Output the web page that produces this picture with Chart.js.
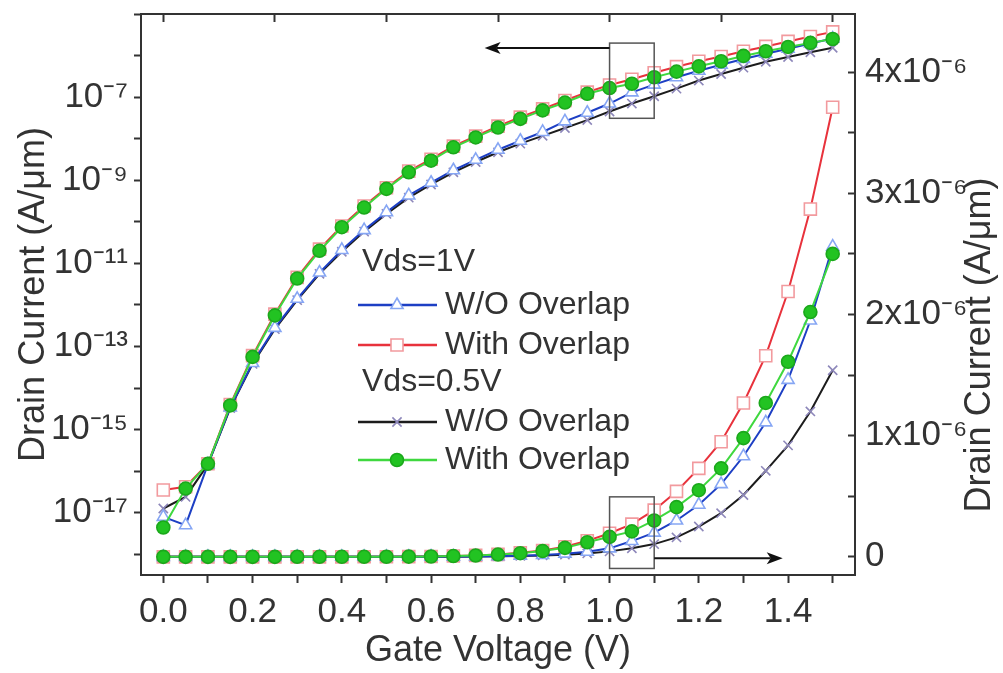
<!DOCTYPE html>
<html lang="en">
<head>
<meta charset="UTF-8" />
<title>Drain Current vs Gate Voltage</title>
<script src="https://cdn.jsdelivr.net/npm/chart.js@4.4.1/dist/chart.umd.min.js"></script>
<style>
  html, body { margin:0; padding:0; background:#ffffff; }
  #wrap { width:1003px; height:673px; }
</style>
</head>
<body>
<div id="wrap"><canvas id="ivChart" width="1003" height="673"></canvas></div>
<script>
// gate voltage sweep (V)
const gateV = [0.00, 0.05, 0.10, 0.15, 0.20, 0.25, 0.30, 0.35, 0.40, 0.45,
               0.50, 0.55, 0.60, 0.65, 0.70, 0.75, 0.80, 0.85, 0.90, 0.95,
               1.00, 1.05, 1.10, 1.15, 1.20, 1.25, 1.30, 1.35, 1.40, 1.45, 1.50];

// drain current (A/um)
const vd1NoOverlap = [7.9e-18, 5.0e-18, 1.45e-16, 3.4e-15, 4.0e-14, 2.8e-13, 1.4e-12, 6.0e-12, 2.1e-11, 6.3e-11,
                      1.7e-10, 4.3e-10, 8.7e-10, 1.74e-9, 3.1e-9, 5.4e-9, 8.9e-9, 1.45e-8, 2.6e-8, 4.2e-8,
                      7.0e-8, 1.3e-7, 2.0e-7, 3.0e-7, 4.3e-7, 6.0e-7, 8.3e-7, 1.11e-6, 1.46e-6, 1.95e-6, 2.56e-6];
const vd1Overlap   = [3.5e-17, 4.2e-17, 1.5e-16, 4.0e-15, 6.0e-14, 6.0e-13, 4.6e-12, 2.2e-11, 7.9e-11, 2.4e-10,
                      6.6e-10, 1.66e-9, 3.2e-9, 6.6e-9, 1.15e-8, 2.0e-8, 3.3e-8, 5.2e-8, 8.3e-8, 1.32e-7,
                      1.95e-7, 2.7e-7, 3.85e-7, 5.4e-7, 7.3e-7, 9.5e-7, 1.27e-6, 1.66e-6, 2.19e-6, 2.87e-6, 3.71e-6];
const vd05NoOverlap = [1.26e-17, 2.4e-17, 1.45e-16, 3.3e-15, 3.8e-14, 2.6e-13, 1.3e-12, 5.6e-12, 1.9e-11, 5.8e-11,
                       1.55e-10, 3.8e-10, 7.9e-10, 1.55e-9, 2.75e-9, 4.7e-9, 7.6e-9, 1.17e-8, 1.8e-8, 2.8e-8,
                       4.5e-8, 7.0e-8, 1.05e-7, 1.6e-7, 2.5e-7, 3.6e-7, 5.1e-7, 7.1e-7, 9.2e-7, 1.2e-6, 1.54e-6];
const vd05Overlap   = [4.4e-18, 3.8e-17, 1.5e-16, 3.8e-15, 5.6e-14, 5.6e-13, 4.3e-12, 2.0e-11, 7.4e-11, 2.2e-10,
                       6.2e-10, 1.55e-9, 2.95e-9, 6.2e-9, 1.07e-8, 1.86e-8, 3.0e-8, 4.8e-8, 7.4e-8, 1.2e-7,
                       1.65e-7, 2.1e-7, 3.0e-7, 4.1e-7, 5.5e-7, 7.3e-7, 9.8e-7, 1.27e-6, 1.61e-6, 2.02e-6, 2.50e-6];

// tick positions
const xTicks    = [0.0, 0.1, 0.2, 0.3, 0.4, 0.5, 0.6, 0.7, 0.8, 0.9, 1.0, 1.1, 1.2, 1.3, 1.4, 1.5];
const xLabels   = ['0.0', '', '0.2', '', '0.4', '', '0.6', '', '0.8', '', '1.0', '', '1.2', '', '1.4', ''];
const topTicks  = [0.0, 0.25, 0.5, 0.75, 1.0, 1.25, 1.5];
const logExps   = [-18, -17, -16, -15, -14, -13, -12, -11, -10, -9, -8, -7, -6, -5];
const logLabeled = [-17, -15, -13, -11, -9, -7];
const linTicks  = [0, 0.5e-6, 1e-6, 1.5e-6, 2e-6, 2.5e-6, 3e-6, 3.5e-6, 4e-6];
const linLabels = ['0', '', '1x10⁻⁶', '', '2x10⁻⁶', '', '3x10⁻⁶', '', '4x10⁻⁶'];

const FONT = "'Liberation Sans', Arial, Helvetica, sans-serif";
const INK = '#333333';

// series styles, first entry drawn on top
const series = [
  {name:'With Overlap', group:'Vds=0.5V', values:vd05Overlap, line:'#3fd83f', style:'circle', radius:6.5, fill:'#22c322', edge:'#1ba81b'},
  {name:'W/O Overlap',  group:'Vds=1V',   values:vd1NoOverlap, line:'#1d3fc4', style:'triangle', radius:7, fill:'#ffffff', edge:'#86a6f4'},
  {name:'W/O Overlap',  group:'Vds=0.5V', values:vd05NoOverlap, line:'#1c1c1c', style:'crossRot', radius:6.5, fill:'#ffffff', edge:'#8d87ba'},
  {name:'With Overlap', group:'Vds=1V',   values:vd1Overlap, line:'#e8323c', style:'rect', radius:8.5, fill:'#ffffff', edge:'#f29a9e'}
];

function toSup(s) {
  const map = {'-':'⁻','0':'⁰','1':'¹','2':'²','3':'³','4':'⁴','5':'⁵','6':'⁶','7':'⁷','8':'⁸','9':'⁹'};
  return s.split('').map(c => map[c] || c).join('');
}

let datasets = [];
series.forEach((s, i) => {
  ['y', 'y2'].forEach(axis => {
    datasets.push({
      label: s.group + ' ' + s.name + (axis === 'y' ? ' (log)' : ' (linear)'),
      data: gateV.map((v, k) => ({x: v, y: s.values[k]})),
      yAxisID: axis,
      xAxisID: 'x',
      borderColor: s.line,
      borderWidth: 2,
      pointStyle: s.style,
      pointRadius: s.radius,
      pointBackgroundColor: s.fill,
      pointBorderColor: s.edge,
      pointBorderWidth: 1.6,
      tension: 0,
      fill: false,
      order: i
    });
  });
});

// boxes and arrows in the plot
const overlays = {
  boxes: [
    {x0:1.0, x1:1.1, axis:'y',  y0:Math.pow(10,-5.70), y1:Math.pow(10,-7.51)},
    {x0:1.0, x1:1.1, axis:'y2', y0:0.495e-6, y1:-0.096e-6}
  ],
  arrows: [
    {from:1.0, to:0.72,  axis:'y',  y:Math.pow(10,-5.82)},
    {from:1.1, to:1.388, axis:'y2', y:-0.012e-6}
  ]
};

const overlayPlugin = {
  id: 'overlayPlugin',
  afterDatasetsDraw(chart) {
    const ctx = chart.ctx;
    const xs = chart.scales.x;
    ctx.save();
    ctx.strokeStyle = '#555555';
    ctx.lineWidth = 1.5;
    overlays.boxes.forEach(b => {
      const ys = chart.scales[b.axis];
      const px0 = xs.getPixelForValue(b.x0), px1 = xs.getPixelForValue(b.x1);
      const py0 = ys.getPixelForValue(b.y0), py1 = ys.getPixelForValue(b.y1);
      ctx.strokeRect(px0, py0, px1 - px0, py1 - py0);
    });
    ctx.strokeStyle = '#111111';
    ctx.fillStyle = '#111111';
    ctx.lineWidth = 2;
    overlays.arrows.forEach(a => {
      const ys = chart.scales[a.axis];
      const p0 = xs.getPixelForValue(a.from), p1 = xs.getPixelForValue(a.to);
      const py = ys.getPixelForValue(a.y);
      const dir = p1 > p0 ? 1 : -1;
      ctx.beginPath();
      ctx.moveTo(p0, py);
      ctx.lineTo(p1 - dir * 12, py);
      ctx.stroke();
      ctx.beginPath();
      ctx.moveTo(p1, py);
      ctx.lineTo(p1 - dir * 16, py - 6);
      ctx.lineTo(p1 - dir * 12, py);
      ctx.lineTo(p1 - dir * 16, py + 6);
      ctx.closePath();
      ctx.fill();
    });

    // right axis title, reading bottom to top like the left one
    ctx.fillStyle = INK;
    ctx.font = '36px ' + FONT;
    ctx.textAlign = 'center';
    ctx.textBaseline = 'middle';
    ctx.translate(980, 345);
    ctx.rotate(-Math.PI / 2);
    ctx.fillText('Drain Current (A/μm)', 0, 0);
    ctx.restore();

    // legend
    ctx.save();
    ctx.font = '32px ' + FONT;
    ctx.textBaseline = 'middle';
    ctx.textAlign = 'left';
    const rows = [
      {head:'Vds=1V', y:262},
      {s:series[1], y:305},
      {s:series[3], y:345},
      {head:'Vds=0.5V', y:382},
      {s:series[2], y:422},
      {s:series[0], y:460}
    ];
    rows.forEach(r => {
      if (r.head) {
        ctx.fillStyle = INK;
        ctx.fillText(r.head, 362, r.y);
        return;
      }
      const s = r.s;
      ctx.strokeStyle = s.line;
      ctx.lineWidth = 2.5;
      ctx.beginPath();
      ctx.moveTo(358, r.y);
      ctx.lineTo(437, r.y);
      ctx.stroke();
      ctx.fillStyle = s.fill;
      ctx.strokeStyle = s.edge;
      ctx.lineWidth = 1.6;
      Chart.helpers.drawPoint(ctx, {pointStyle:s.style, radius:s.radius, rotation:0, borderWidth:1.6}, 397, r.y);
      ctx.fillStyle = INK;
      ctx.fillText(s.name, 445, r.y);
    });
    ctx.restore();
  }
};

const axisBorder = {display:true, color:INK, width:2};
const tickFont = {family:FONT, size:35};

function fixBox(w, h) {
  return s => {
    if (w !== null) s.width = w;
    if (h !== null) s.height = h;
    s.paddingTop = 0; s.paddingBottom = 0;
    s.paddingLeft = 0; s.paddingRight = 0;
  };
}

new Chart(document.getElementById('ivChart'), {
  type: 'line',
  data: {datasets: datasets},
  options: {
    responsive: false,
    animation: false,
    layout: {padding: 0},
    plugins: {legend: {display:false}, tooltip: {enabled:false}},
    scales: {
      x: {
        type: 'linear', position: 'bottom', min: -0.05, max: 1.55,
        afterFit: fixBox(null, 98),
        afterBuildTicks: s => { s.ticks = xTicks.map(v => ({value:v})); },
        ticks: {
          autoSkip: false, maxRotation: 0, color: INK, font: tickFont, padding: 8,
          callback: (v, i) => xLabels[i]
        },
        grid: {drawOnChartArea:false, tickLength:8, tickColor:INK, tickWidth:2},
        border: axisBorder,
        title: {display:true, text:'Gate Voltage (V)', color:INK,
                font:{family:FONT, size:36, lineHeight:1}, padding:{top:0, bottom:4}}
      },
      x2: {
        type: 'linear', position: 'top', min: -0.05, max: 1.55,
        afterFit: fixBox(null, 14),
        afterBuildTicks: s => { s.ticks = topTicks.map(v => ({value:v})); },
        ticks: {display:false},
        grid: {drawOnChartArea:false, tickLength:-8, tickColor:INK, tickWidth:2},
        border: axisBorder
      },
      y: {
        type: 'logarithmic', position: 'left', min: Math.pow(10, -18.5), max: 1e-5,
        afterFit: fixBox(141, null),
        afterBuildTicks: s => { s.ticks = logExps.map(e => ({value:Math.pow(10, e)})); },
        ticks: {
          autoSkip: false, color: INK, font: tickFont, padding: 6,
          callback: (v) => {
            const e = Math.round(Math.log10(v));
            return logLabeled.includes(e) ? '10' + toSup(String(e)) : '';
          }
        },
        grid: {drawOnChartArea:false, tickLength:7, tickColor:INK, tickWidth:2},
        border: axisBorder,
        title: {display:true, text:'Drain Current (A/μm)', color:INK,
                font:{family:FONT, size:36, lineHeight:1}, padding:{top:16, bottom:0}}
      },
      y2: {
        type: 'linear', position: 'right', min: -0.15e-6, max: 4.48e-6,
        afterFit: fixBox(148, null),
        afterBuildTicks: s => { s.ticks = linTicks.map(v => ({value:v})); },
        ticks: {
          autoSkip: false, color: INK, font: tickFont, padding: 17,
          callback: (v, i) => linLabels[i]
        },
        grid: {drawOnChartArea:false, tickLength:-7, tickColor:INK, tickWidth:2},
        border: axisBorder
      }
    }
  },
  plugins: [overlayPlugin]
});
</script>
</body>
</html>
